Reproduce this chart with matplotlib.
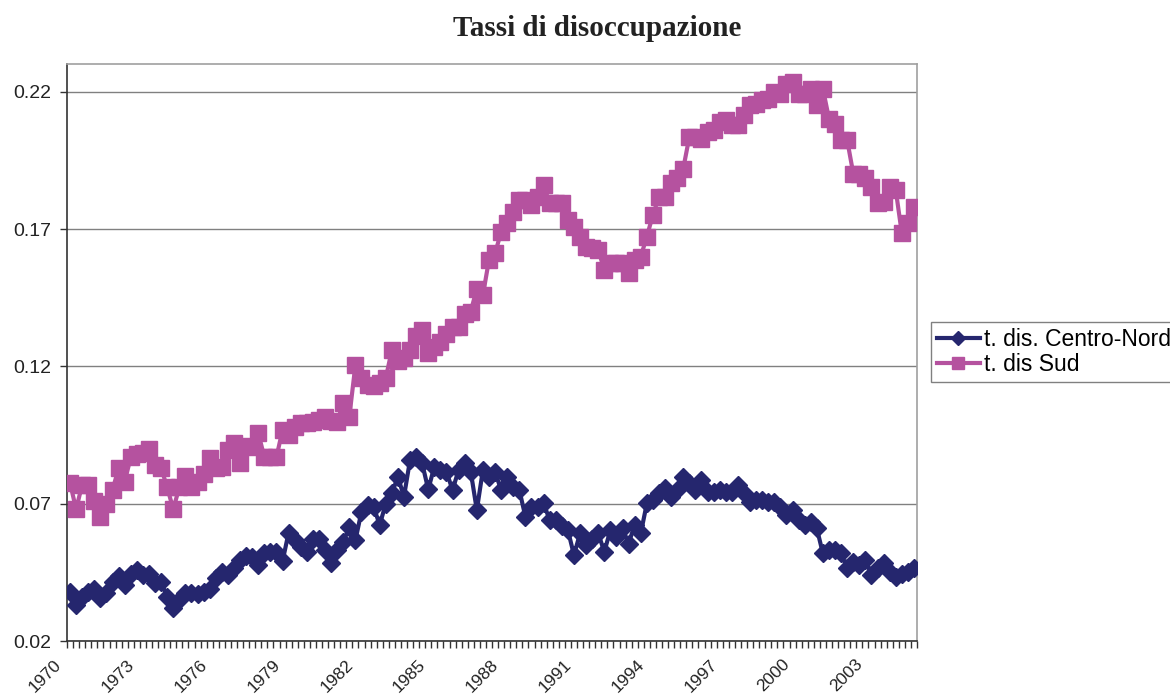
"""Tassi di disoccupazione: Centro-Nord vs Sud, dati trimestrali 1970-2004."""

import matplotlib

matplotlib.use("Agg")
import matplotlib.pyplot as plt  # noqa: E402
import numpy as np  # noqa: E402

# quarterly values, 1970Q1 .. 2004Q4
centro_nord = [
    0.038, 0.033, 0.036, 0.038, 0.039, 0.0355, 0.0375, 0.0415, 0.0435, 0.0405,
    0.0445, 0.046, 0.044, 0.0445, 0.041, 0.0415, 0.036, 0.032, 0.035, 0.0375,
    0.0375, 0.037, 0.038, 0.039, 0.043, 0.045, 0.044, 0.0465, 0.0495, 0.051,
    0.0505, 0.0477, 0.052, 0.0525, 0.0525, 0.049, 0.0595, 0.0567, 0.0543, 0.0525,
    0.057, 0.0573, 0.053, 0.0483, 0.053, 0.056, 0.0616, 0.0567, 0.0671, 0.0695,
    0.0689, 0.0623, 0.070, 0.0738, 0.0798, 0.0726, 0.0859, 0.0871, 0.0847, 0.0752,
    0.0835, 0.0823, 0.0817, 0.075, 0.0823, 0.085, 0.0817, 0.0677, 0.0823, 0.0798,
    0.0817, 0.075, 0.0798, 0.0762, 0.075, 0.0653, 0.0689, 0.0689, 0.0701, 0.0641,
    0.0641, 0.062, 0.0604, 0.0513, 0.0592, 0.055, 0.057, 0.0592, 0.0525, 0.0604,
    0.058, 0.061, 0.0555, 0.0623, 0.0592, 0.0701, 0.0713, 0.0738, 0.0756, 0.0726,
    0.075, 0.0798, 0.0774, 0.075, 0.0786, 0.0744, 0.0744, 0.075, 0.0744, 0.0744,
    0.0768, 0.0738, 0.0707, 0.0713, 0.0713, 0.0707, 0.0707, 0.0689, 0.0659, 0.0677,
    0.0641, 0.0623, 0.0635, 0.061, 0.0519, 0.053, 0.053, 0.0519, 0.0465, 0.0486,
    0.0477, 0.0495, 0.044, 0.0465, 0.0483, 0.0453, 0.0434, 0.0445, 0.0453, 0.0465,
]
sud = [
    0.0776, 0.068, 0.077, 0.0767, 0.071, 0.065, 0.070, 0.075, 0.083, 0.078,
    0.087, 0.088, 0.0885, 0.090, 0.084, 0.083, 0.076, 0.068, 0.076, 0.080,
    0.076, 0.078, 0.081, 0.0867, 0.083, 0.0835, 0.0896, 0.092, 0.085, 0.091,
    0.0905, 0.0958, 0.087, 0.0872, 0.087, 0.0969, 0.095, 0.098, 0.0993, 0.0995,
    0.0999, 0.1005, 0.1017, 0.100, 0.0999, 0.1066, 0.1017, 0.1205, 0.1157, 0.1133,
    0.113, 0.114, 0.1157, 0.126, 0.122, 0.123, 0.126, 0.131, 0.1333, 0.1248,
    0.127, 0.129, 0.132, 0.1345, 0.1345, 0.1393, 0.140, 0.1484, 0.146, 0.1588,
    0.1612, 0.169, 0.1721, 0.1764, 0.1806, 0.1806, 0.1788, 0.1819, 0.1861, 0.1794,
    0.1794, 0.1794, 0.1733, 0.1709, 0.1673, 0.1636, 0.163, 0.1624, 0.1552, 0.1576,
    0.1576, 0.1576, 0.154, 0.1588, 0.160, 0.1673, 0.1752, 0.1819, 0.1819, 0.1867,
    0.1885, 0.1921, 0.2036, 0.2036, 0.203, 0.2054, 0.2061, 0.2091, 0.2097, 0.2079,
    0.2079, 0.2115, 0.2152, 0.2158, 0.217, 0.2176, 0.220, 0.2194, 0.223, 0.2236,
    0.2194, 0.2194, 0.2212, 0.2152, 0.2212, 0.2103, 0.2085, 0.2025, 0.2025, 0.1903,
    0.1903, 0.1885, 0.1855, 0.1794, 0.180, 0.1855, 0.1843, 0.1685, 0.1721, 0.1782,
]
years = list(range(1970, 2005, 3))
series_names = ["t. dis. Centro-Nord", "t. dis Sud"]
y_ticks = [0.02, 0.07, 0.12, 0.17, 0.22]

NAVY = "#25266e"
MAGENTA = "#b5529f"


def main() -> None:
    x = np.arange(len(sud))
    fig = plt.figure(figsize=(11.7, 6.98), dpi=100)
    ax = fig.add_axes([67 / 1170, 1 - 641 / 698, 850 / 1170, 577 / 698])

    ax.plot(x, centro_nord, color=NAVY, lw=3, marker="D", ms=9.5,
            mfc=NAVY, mec=NAVY, label=series_names[0], zorder=3)
    ax.plot(x, sud, color=MAGENTA, lw=3, marker="s", ms=11.5,
            mfc=MAGENTA, mec=MAGENTA, label=series_names[1], zorder=3)

    ax.set_xlim(-0.5, len(sud) - 0.5)
    ax.set_ylim(0.02, 0.2302)
    ax.set_yticks(y_ticks)
    ax.set_yticklabels([f"{v:.2f}" for v in y_ticks], fontsize=14,
                       family="Liberation Sans", color="#222222")
    ax.grid(axis="y", color="#808080", lw=1)
    ax.set_axisbelow(True)

    # tick marks on every quarter boundary, year labels every 3 years
    ax.set_xticks(np.arange(-0.5, len(sud), 1))
    ax.set_xticklabels([])
    ax.tick_params(axis="x", length=5, width=1, color="#333333")
    ax.tick_params(axis="y", length=5, width=1, color="#333333", pad=6)
    for yr in years:
        ax.annotate(str(yr), xy=((yr - 1970) * 4, 0),
                    xycoords=("data", "axes fraction"),
                    xytext=(-11, -21), textcoords="offset pixels",
                    rotation=45, ha="right", va="center",
                    rotation_mode="anchor", fontsize=12.5,
                    family="Liberation Sans", color="#222222",
                    annotation_clip=False)

    for side in ("top", "right"):
        ax.spines[side].set_color("#a0a0a0")
    for side in ("left", "bottom"):
        ax.spines[side].set_color("#333333")
    for sp in ax.spines.values():
        sp.set_linewidth(1.2)

    fig.text(597 / 1170, 1 - 29 / 698, "Tassi di disoccupazione",
             ha="center", va="center", fontsize=21, fontweight="bold",
             family="Liberation Serif", color="#222222")

    fig.legend(loc="upper left", bbox_to_anchor=(931 / 1170, 1 - 322 / 698),
               fancybox=False, edgecolor="#808080", framealpha=1,
               prop={"family": "Liberation Sans", "size": 16.5},
               handlelength=1.9, handletextpad=0.15, borderpad=0.25,
               labelspacing=0.1, borderaxespad=0, markerscale=0.8)

    fig.savefig("out.png", dpi=100)
    plt.close(fig)


if __name__ == "__main__":
    main()
